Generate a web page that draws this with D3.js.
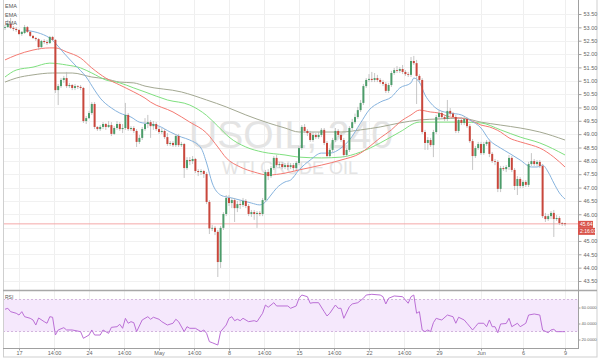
<!DOCTYPE html>
<html><head><meta charset="utf-8">
<script src="https://cdnjs.cloudflare.com/ajax/libs/d3/7.8.5/d3.min.js"></script>
<style>body{margin:0;background:#fff;} svg{display:block;font-family:"Liberation Sans",Arial,sans-serif;}</style>
</head><body><svg id="c" width="600" height="360"></svg>
<script>
// ---- DATA ----
// H4 candles [open, high, low, close]
const candles = [
[52.98,53.09,52.90,53.01],[53.01,53.28,52.98,53.13],[53.13,53.35,52.94,52.98],[52.98,53.05,52.86,52.94],[52.94,53.01,52.83,52.90],
[52.90,52.94,52.71,52.75],[52.75,52.86,52.68,52.83],[52.79,53.09,52.75,53.01],[53.01,53.05,52.79,52.83],[52.83,52.86,52.64,52.68],
[52.68,52.71,52.56,52.60],[52.60,52.64,52.49,52.56],[52.56,52.60,52.15,52.26],[52.26,52.53,52.23,52.49],[52.49,52.56,52.38,52.45],
[52.45,52.53,52.34,52.41],[52.41,52.68,52.38,52.64],[52.64,52.68,52.49,52.53],[52.53,52.56,50.54,50.65],[50.65,50.88,50.09,50.80],
[50.80,51.10,50.73,51.03],[51.03,51.18,50.92,51.10],[51.10,51.33,50.73,50.80],[50.80,50.92,50.73,50.84],[50.84,50.88,50.65,50.73],
[50.73,50.88,50.65,50.80],[50.80,50.84,50.69,50.77],[50.77,50.84,50.65,50.73],[50.73,50.77,49.42,49.49],[49.49,49.68,49.38,49.60],
[49.60,49.87,49.57,49.79],[49.79,50.20,49.72,50.13],[50.13,50.20,49.19,49.27],[49.27,49.30,49.12,49.19],[49.19,49.34,49.12,49.27],
[49.27,49.45,49.19,49.38],[49.38,49.42,49.16,49.27],[49.27,49.49,49.23,49.34],[49.34,49.45,48.93,49.01],[49.01,49.30,48.97,49.23],
[49.23,49.49,49.16,49.38],[49.38,49.45,49.12,49.19],[49.19,49.38,49.04,49.23],[49.23,50.17,49.16,49.72],[49.72,49.79,49.12,49.19],
[49.19,49.30,49.12,49.23],[49.23,49.30,49.04,49.12],[49.12,49.19,48.52,48.71],[48.71,48.97,48.63,48.86],[48.86,49.27,48.78,49.19],
[49.19,49.60,49.12,49.38],[49.38,49.72,49.23,49.45],[49.45,49.53,48.86,49.30],[49.30,49.49,49.16,49.38],[49.38,49.45,49.12,49.19],
[49.19,49.27,49.01,49.08],[49.08,49.23,49.01,49.12],[49.12,49.19,48.82,48.89],[48.89,49.04,48.56,48.63],[48.63,48.74,48.56,48.67],
[48.67,48.74,48.52,48.59],[48.59,49.01,48.52,48.93],[48.93,49.01,48.52,48.59],[48.59,48.71,48.52,48.63],[48.63,48.67,47.36,47.73],
[47.73,48.14,47.66,48.03],[48.03,48.14,47.84,47.99],[47.99,48.18,47.88,48.07],[48.07,48.11,47.54,47.62],[47.62,47.69,47.43,47.58],
[47.58,47.69,47.47,47.62],[47.62,47.66,47.36,47.51],[47.51,47.58,46.38,46.46],[46.46,46.53,45.26,45.47],[45.47,45.60,45.37,45.49],
[45.49,45.56,45.22,45.34],[45.34,45.41,43.65,44.21],[44.21,45.56,43.99,45.49],[45.49,46.08,45.41,46.01],[46.01,46.72,45.93,46.61],
[46.61,46.72,46.31,46.42],[46.42,46.61,46.23,46.53],[46.53,46.61,45.71,46.23],[46.23,46.50,46.08,46.38],[46.38,46.53,46.20,46.35],
[46.35,46.61,46.27,46.50],[46.50,46.57,46.23,46.31],[46.31,46.38,45.93,46.01],[46.01,46.16,45.90,46.08],[46.08,46.16,45.79,46.01],
[46.01,46.12,45.49,46.05],[46.05,46.12,45.93,46.01],[46.01,46.61,45.93,46.53],[46.53,47.66,46.46,47.58],[47.58,47.69,47.28,47.43],
[47.43,47.81,47.36,47.73],[47.73,48.18,47.66,48.11],[48.11,48.22,47.77,47.84],[47.84,47.96,47.73,47.88],[47.88,47.96,47.69,47.77],
[47.77,47.92,47.69,47.84],[47.84,47.92,47.66,47.77],[47.77,47.92,47.69,47.84],[47.84,47.92,47.62,47.73],[47.73,47.99,47.66,47.92],
[47.92,48.56,47.84,48.48],[48.48,49.34,48.41,49.27],[49.27,49.38,49.04,49.12],[49.12,49.19,48.93,49.04],[49.04,49.12,48.71,48.78],
[48.78,49.08,48.71,48.97],[48.97,49.04,48.82,48.89],[48.89,49.08,48.82,48.97],[48.97,49.23,48.89,49.16],[49.16,49.23,48.59,48.67],
[48.67,48.74,48.11,48.18],[48.18,48.48,48.11,48.41],[48.41,48.86,48.33,48.78],[48.78,49.23,48.71,49.12],[49.12,49.19,48.89,48.97],
[48.97,49.04,48.71,48.78],[48.78,48.86,48.14,48.22],[48.22,48.48,48.14,48.41],[48.41,49.30,48.33,49.23],[49.23,49.57,49.16,49.45],
[49.45,49.77,49.38,49.64],[49.64,50.02,49.57,49.90],[49.90,50.28,49.83,50.17],[50.17,50.88,50.09,50.80],[50.80,51.10,50.73,51.03],
[51.03,51.25,50.95,51.07],[51.07,51.33,50.95,51.03],[51.03,51.29,50.95,51.10],[51.10,51.22,50.95,51.03],[51.03,51.10,50.88,50.95],
[50.95,51.03,50.80,50.88],[50.88,50.95,50.54,50.62],[50.62,50.92,50.54,50.84],[50.84,51.37,50.77,51.29],[51.29,51.48,51.22,51.40],
[51.40,51.55,51.29,51.37],[51.37,51.51,51.29,51.44],[51.44,51.59,51.25,51.33],[51.33,51.40,51.18,51.25],[51.25,51.33,51.14,51.22],
[51.22,51.89,51.14,51.74],[51.74,51.93,51.59,51.66],[51.66,51.78,50.13,51.18],[51.18,51.25,50.95,51.03],[51.03,51.10,49.01,49.08],
[49.08,49.16,48.41,48.67],[48.67,48.89,48.41,48.78],[48.78,48.86,48.52,48.59],[48.59,49.16,48.14,49.08],[49.08,49.72,49.01,49.64],
[49.64,49.90,49.57,49.79],[49.79,49.87,49.57,49.64],[49.64,49.72,49.49,49.57],[49.57,50.28,49.49,49.87],[49.87,49.98,49.68,49.77],
[49.77,49.83,49.57,49.64],[49.64,49.72,49.04,49.12],[49.12,49.60,49.04,49.53],[49.53,49.64,49.34,49.42],[49.42,49.68,49.34,49.57],
[49.57,49.64,49.23,49.30],[49.30,49.38,48.67,48.74],[48.74,48.82,47.66,48.18],[48.18,48.56,48.11,48.48],[48.48,48.71,48.41,48.63],
[48.63,48.71,48.22,48.29],[48.29,48.71,48.22,48.63],[48.63,48.78,48.56,48.71],[48.71,48.78,48.14,48.26],[48.26,48.33,47.92,47.99],
[47.99,48.07,47.84,47.96],[47.96,48.03,46.83,46.95],[46.95,47.81,46.83,47.73],[47.73,47.81,47.62,47.69],[47.69,47.84,47.58,47.77],
[47.77,48.22,47.66,48.11],[48.11,48.18,47.58,47.66],[47.66,47.73,46.91,47.06],[47.06,47.43,46.72,47.32],[47.32,47.39,46.98,47.06],
[47.06,47.28,46.98,47.21],[47.21,47.28,47.02,47.10],[47.10,47.96,47.02,47.88],[47.88,48.29,47.81,47.99],[47.99,48.07,47.81,47.88],
[47.88,48.03,47.81,47.96],[47.96,48.03,47.73,47.81],[47.81,47.88,45.86,45.93],[45.93,46.05,45.71,45.82],[45.82,46.01,45.75,45.93],
[45.93,46.12,45.82,46.05],[46.05,46.16,45.15,45.82],[45.82,45.97,45.75,45.86],[45.86,45.93,45.60,45.67],[45.67,45.71,45.56,45.64],
[45.66,45.67,45.56,45.64]
];
// EMA lines: [candle index, price]
const emaBlue = [[7,52.90],[16,52.60],[18,52.41],[21,52.04],[25,51.59],[29,51.14],[32,50.65],[34,50.35],[38,49.98],[41,49.79],[45,49.64],[48,49.45],[52,49.38],[55,49.30],[59,49.08],[63,48.89],[66,48.78],[70,48.48],[72,47.92],[74,47.17],[77,46.72],[79,46.65],[81,46.61],[84,46.53],[88,46.42],[91,46.35],[93,46.46],[95,46.72],[97,46.98],[100,47.21],[102,47.28],[105,47.66],[109,48.03],[113,48.29],[116,48.29],[120,48.48],[123,48.78],[127,49.42],[130,49.90],[134,50.20],[138,50.39],[141,50.73],[145,50.92],[146,51.10],[148,50.95],[150,50.47],[152,50.17],[155,49.90],[159,49.79],[163,49.72],[166,49.53],[170,49.23],[173,48.78],[177,48.48],[180,48.29],[184,48.03],[188,47.77],[190,47.77],[192,47.84],[194,47.58],[196,47.17],[198,46.80],[200,46.57]];
const emaRed = [[0,51.78],[4,51.96],[10,52.15],[16,52.23],[18,52.23],[22,52.08],[27,51.85],[31,51.48],[36,51.10],[41,50.84],[46,50.58],[50,50.35],[52,50.20],[60,49.83],[66,49.45],[72,49.04],[76,48.52],[79,48.11],[84,47.77],[89,47.58],[94,47.47],[100,47.54],[105,47.66],[113,47.84],[120,48.03],[127,48.29],[130,48.52],[134,48.86],[138,49.16],[141,49.45],[145,49.72],[148,49.90],[152,49.83],[155,49.79],[159,49.64],[163,49.60],[166,49.53],[170,49.34],[173,49.27],[177,49.08],[180,48.86],[184,48.71],[188,48.59],[191,48.48],[196,48.14],[200,47.77]];
const emaGreen = [[0,51.14],[4,51.40],[10,51.51],[16,51.66],[22,51.59],[27,51.48],[31,51.29],[36,51.03],[41,50.92],[46,50.73],[50,50.58],[58,50.28],[66,50.09],[72,49.70],[76,49.30],[80,48.89],[86,48.52],[92,48.33],[100,48.22],[105,48.14],[113,48.11],[120,48.14],[127,48.33],[134,48.67],[141,49.08],[148,49.45],[155,49.45],[163,49.45],[170,49.42],[177,49.16],[184,48.89],[191,48.67],[200,48.22]];
const emaGray = [[0,50.95],[4,51.10],[10,51.22],[17,51.29],[24,51.29],[31,51.14],[36,51.07],[41,50.95],[46,50.92],[50,50.80],[63,50.58],[72,50.28],[79,50.02],[86,49.72],[94,49.42],[100,49.23],[105,49.08],[113,49.08],[120,49.08],[127,49.16],[134,49.27],[141,49.42],[148,49.53],[155,49.57],[163,49.60],[170,49.45],[177,49.34],[184,49.23],[191,49.08],[200,48.78]];
// RSI: [candle index, value]
const rsi = [[0,57.8],[1,59.0],[2,54.8],[4,52.8],[5,50.6],[6,54.8],[7,48.5],[9,46.5],[10,44.4],[11,38.1],[12,46.9],[14,42.3],[15,40.3],[16,48.5],[17,47.8],[18,25.6],[19,31.9],[21,34.8],[22,31.9],[24,31.9],[27,29.8],[28,21.5],[30,25.6],[31,31.9],[32,25.6],[34,25.6],[35,31.9],[36,29.8],[37,27.7],[38,35.2],[40,36.0],[41,39.0],[42,34.0],[43,46.5],[44,40.3],[45,42.3],[46,41.0],[47,29.8],[49,44.4],[51,48.5],[52,45.3],[53,47.8],[55,45.3],[56,42.3],[58,38.1],[60,40.3],[61,45.3],[62,42.3],[64,29.8],[65,36.0],[66,34.0],[68,34.0],[70,29.8],[71,31.9],[72,27.7],[73,17.3],[74,16.0],[76,13.1],[77,29.8],[79,38.1],[80,46.5],[81,48.5],[82,43.5],[83,45.3],[84,43.5],[85,46.5],[87,42.3],[89,43.5],[90,42.3],[92,52.8],[93,63.1],[94,60.3],[95,63.1],[96,66.0],[97,61.9],[101,61.9],[102,59.0],[104,61.9],[105,71.5],[106,75.6],[108,73.5],[109,65.3],[110,66.0],[112,66.0],[114,54.8],[115,49.4],[116,52.8],[118,63.1],[119,59.0],[120,59.0],[121,46.5],[123,61.0],[124,64.4],[126,66.0],[128,71.5],[129,75.6],[131,76.5],[134,75.6],[135,73.5],[136,64.4],[137,71.5],[139,74.4],[142,73.5],[144,65.3],[145,73.5],[146,75.6],[147,52.8],[148,54.8],[149,31.9],[150,29.8],[151,31.9],[152,29.8],[153,41.0],[154,46.5],[155,45.3],[156,44.4],[158,50.6],[160,48.5],[161,40.3],[162,47.8],[164,44.4],[165,40.3],[167,31.9],[168,36.0],[169,40.3],[171,40.3],[172,36.0],[173,44.4],[174,36.0],[175,36.0],[176,28.5],[177,39.4],[179,40.0],[180,46.5],[181,36.0],[183,40.3],[184,36.0],[185,38.1],[186,40.3],[187,50.6],[189,51.9],[191,50.6],[192,31.9],[194,28.5],[195,31.9],[196,32.7],[197,29.8],[199,29.8],[200,29.8]];
// Axis ticks
const xTickIdx = [5,17.5,30,42.5,55,67.5,80,92.5,105,117.5,130,142.5,155,170,185,200];
const xTickLabels = ["17","14:00","24","14:00","May","14:00","8","14:00","15","14:00","22","14:00","29","Jun","6","9"];
const priceTicks = [43.5,44,44.5,45,45.5,46,46.5,47,47.5,48,48.5,49,49.5,50,50.5,51,51.5,52,52.5,53,53.5];
const hiddenPriceLabels = [45.5]; // covered by the last-price tag
const rsiTicks = [20,40,60];
const rsiBand = [30,70];
const lastPrice = 45.64;
const countdown = "2:16:03";
const legendLabels = ["EMA","EMA","EMA"];
const watermark = ["USOIL, 240","WTI CRUDE OIL"];

// ---- CHART ----
const svg = d3.select("#c");
const L=3, R=578, PT=0, PB=290, RT=291, RB=348;
const x = d3.scaleLinear().domain([0,200]).range([5,565]);
const y = d3.scaleLinear().domain([43.5,53.5]).range([281,14]);
const yr = d3.scaleLinear().domain([30,70]).range([331.5,299.5]);

const defs = svg.append("defs");
defs.append("clipPath").attr("id","cp").append("rect").attr("x",L).attr("y",PT).attr("width",R-L).attr("height",PB-PT);
defs.append("clipPath").attr("id","cr").append("rect").attr("x",L).attr("y",RT).attr("width",R-L).attr("height",RB-RT);

// grid
const g0 = svg.append("g");
g0.selectAll(".vg").data(xTickIdx).join("line")
  .attr("x1",d=>Math.round(x(d))+0.5).attr("x2",d=>Math.round(x(d))+0.5).attr("y1",0).attr("y2",RB)
  .attr("stroke","#efefef");
g0.selectAll(".hg").data(priceTicks).join("line")
  .attr("x1",L).attr("x2",R).attr("y1",d=>Math.round(y(d))+0.5).attr("y2",d=>Math.round(y(d))+0.5)
  .attr("stroke","#f1f1f1");

// watermark
svg.append("text").attr("x",291).attr("y",148).attr("text-anchor","middle")
  .attr("font-size",39).attr("fill","#e4e4e4").text(watermark[0]);
svg.append("text").attr("x",290).attr("y",174).attr("text-anchor","middle")
  .attr("font-size",18).attr("fill","#e4e4e4").text(watermark[1]);

const gp = svg.append("g").attr("clip-path","url(#cp)");
// last price line
gp.append("line").attr("x1",L).attr("x2",R).attr("y1",y(lastPrice)).attr("y2",y(lastPrice))
  .attr("stroke","#f5a8a8").attr("stroke-width",1);

// EMAs
const line = d3.line().x(d=>x(d[0])).y(d=>y(d[1])).curve(d3.curveMonotoneX);
[[emaGray,"#a3a892"],[emaGreen,"#7fe07f"],[emaRed,"#f47a72"],[emaBlue,"#86b3de"]].forEach(([d,c])=>{
  gp.append("path").datum(d).attr("d",line).attr("fill","none").attr("stroke",c).attr("stroke-width",1);
});

// candles
const cg = gp.append("g");
const cs = cg.selectAll("g").data(candles).join("g");
cs.append("line")
  .attr("x1",(d,i)=>x(i)).attr("x2",(d,i)=>x(i))
  .attr("y1",d=>y(d[1])).attr("y2",d=>y(d[2]))
  .attr("stroke","#b8b8b8").attr("stroke-width",0.8);
cs.append("rect")
  .attr("x",(d,i)=>x(i)-1).attr("width",2)
  .attr("y",d=>y(Math.max(d[0],d[3])))
  .attr("height",d=>Math.max(0.8,Math.abs(y(d[0])-y(d[3]))))
  .attr("fill",d=>d[3]>=d[0]?"#4c9c6a":"#c9473c");

// RSI panel
const gr = svg.append("g").attr("clip-path","url(#cr)");
gr.append("rect").attr("x",L).attr("width",R-L).attr("y",yr(rsiBand[1])).attr("height",yr(rsiBand[0])-yr(rsiBand[1]))
  .attr("fill","#f5e8fc");
rsiBand.forEach(v=>gr.append("line").attr("x1",L).attr("x2",R).attr("y1",yr(v)).attr("y2",yr(v))
  .attr("stroke","#c9a6d6").attr("stroke-dasharray","2,2").attr("stroke-width",0.8));
const rline = d3.line().x(d=>x(d[0])).y(d=>yr(d[1])).curve(d3.curveLinear);
gr.append("path").datum(rsi).attr("d",rline).attr("fill","none").attr("stroke","#bb6fd6").attr("stroke-width",1);

// frame / separators
svg.append("rect").attr("x",3.5).attr("y",-1).attr("width",593.5).attr("height",358).attr("fill","none").attr("stroke","#cfcfcf");
svg.append("line").attr("x1",L).attr("x2",597).attr("y1",290.5).attr("y2",290.5).attr("stroke","#a8a8a8").attr("stroke-width",1.5);
svg.append("line").attr("x1",L).attr("x2",R).attr("y1",348.5).attr("y2",348.5).attr("stroke","#a0a0a0");
svg.append("line").attr("x1",R+0.5).attr("x2",R+0.5).attr("y1",0).attr("y2",349).attr("stroke","#a0a0a0");

// legend
svg.selectAll(".lg").data(legendLabels).join("text")
  .attr("x",5).attr("y",(d,i)=>8+i*8.5).attr("font-size",5.5).attr("fill","#555").text(d=>d);
svg.append("text").attr("x",5).attr("y",298.5).attr("font-size",5).attr("fill","#555").text("RSI");

// axes
function styleAxis(fs){
  return g=>{
    g.select(".domain").remove();
    g.selectAll(".tick line").attr("stroke","#a0a0a0");
    g.selectAll(".tick text").attr("font-size",fs).attr("fill","#666").attr("font-family","Liberation Sans, Arial, sans-serif");
  };
}
svg.append("g").attr("transform",`translate(${R+0.5},0)`)
  .call(d3.axisRight(y).tickValues(priceTicks)
    .tickFormat(d=>hiddenPriceLabels.includes(d)?"":d3.format(".2f")(d)).tickSize(3).tickPadding(2))
  .call(styleAxis(5.5));
svg.append("g").attr("transform",`translate(${R+0.5},0)`)
  .call(d3.axisRight(yr).tickValues(rsiTicks).tickFormat(d=>d.toFixed(4)).tickSize(2).tickPadding(1))
  .call(styleAxis(4.2));
svg.append("g").attr("transform",`translate(0,${RB+0.5})`)
  .call(d3.axisBottom(x).tickValues(xTickIdx).tickFormat((d,i)=>xTickLabels[i]).tickSize(2).tickPadding(1))
  .call(styleAxis(5.5));

// last price labels
const ly = y(lastPrice);
svg.append("rect").attr("x",R).attr("y",ly-3).attr("width",15).attr("height",7).attr("fill","#d9534a");
svg.append("text").attr("x",R+2).attr("y",ly+2.5).attr("font-size",5).attr("fill","#fff").text(lastPrice.toFixed(2));
svg.append("rect").attr("x",R).attr("y",ly+4).attr("width",17).attr("height",7).attr("fill","#d9534a");
svg.append("text").attr("x",R+2).attr("y",ly+9.5).attr("font-size",5).attr("fill","#fff").text(countdown);
</script></body></html>
